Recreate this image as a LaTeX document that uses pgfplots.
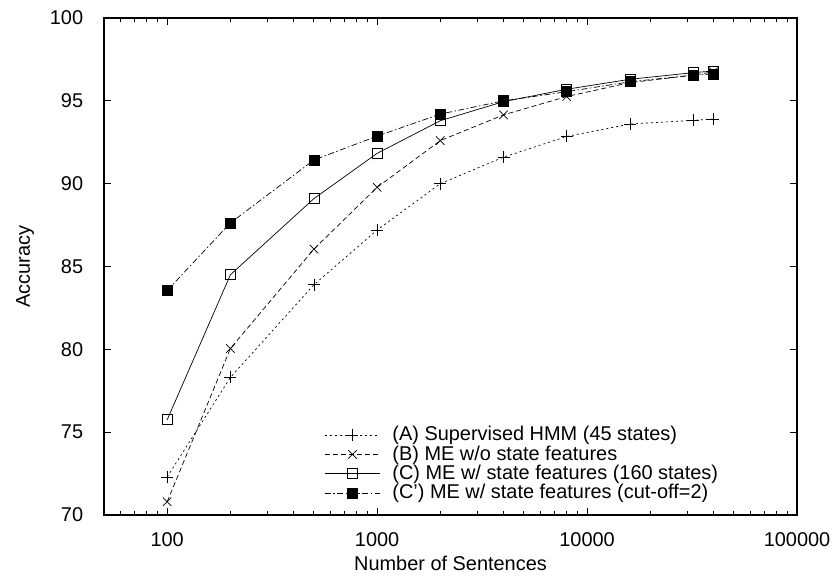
\documentclass[border=0pt]{standalone}
\usepackage{pgfplots}
\pgfplotsset{compat=1.18}
\usepackage{fontspec}
\setmainfont{Liberation Sans}

\begin{document}
\fontsize{20}{22}\selectfont
\begin{tikzpicture}
\begin{axis}[
    at={(0,0)}, anchor=south west,
    scale only axis, width=693bp, height=497bp,
    xmode=log, xmin=50, xmax=100000,
    ymin=70, ymax=100, ytick={70,75,...,100},
    xtick={100,1000,10000,100000},
    xticklabels={100,1000,10000,100000},
    minor xtick={60,70,80,90,200,300,400,500,600,700,800,900,2000,3000,4000,5000,6000,7000,8000,9000,20000,30000,40000,50000,60000,70000,80000,90000},
    tick align=inside, major tick length=7bp, minor tick length=4bp,
    every tick/.style={black, line width=0.9pt},
    axis line style={line width=1.1pt},
    tick label style={font=\fontsize{20}{22}\selectfont},
    /pgf/number format/assume math mode=true,
    yticklabel style={xshift=-14bp},
    xticklabel style={yshift=-11bp},
    xlabel={Number of Sentences}, ylabel={Accuracy},
    label style={font=\fontsize{20}{22}\selectfont},
    xlabel style={at={(axis description cs:0.5,-0.097)}, anchor=center},
    ylabel style={at={(axis description cs:-0.114,0.5)}, anchor=center},
    legend style={draw=none, fill=none, at={(0.318,0.183)}, anchor=north west,
        font=\fontsize{20}{20}\selectfont, row sep=-2bp,
        legend cell align=left, inner sep=0pt},
    legend image code/.code={\draw[mark repeat=2,mark phase=2,#1] plot coordinates {(0cm,0cm) (0.97cm,0cm) (1.94cm,0cm)}; \path (2.3cm,0cm);},
]
\addplot[black, line width=0.7pt, dash pattern=on 2bp off 3bp, mark=+, mark size=6bp, mark options={solid}] coordinates {
(100,72.3) (200,78.3) (500,83.9) (1000,87.2) (2000,90.0) (4000,91.6) (8000,92.85) (16000,93.6) (32000,93.82) (40000,93.9)};
\addlegendentry{(A) Supervised HMM (45 states)}
\addplot[black, line width=0.7pt, dash pattern=on 5bp off 3bp, mark=x, mark size=6bp, mark options={solid}] coordinates {
(100,70.8) (200,80.05) (500,86.05) (1000,89.78) (2000,92.6) (4000,94.15) (8000,95.26) (16000,96.1) (32000,96.55) (40000,96.75)};
\addlegendentry{(B) ME w/o state features}
\addplot[black, line width=0.7pt, mark=square, mark size=5bp, mark options={solid, fill=white}] coordinates {
(100,75.75) (200,84.5) (500,89.1) (1000,91.83) (2000,93.8) (4000,94.95) (8000,95.7) (16000,96.3) (32000,96.7) (40000,96.8)};
\addlegendentry{(C) ME w/ state features (160 states)}
\addplot[black, line width=0.7pt, dash pattern=on 6bp off 2.5bp on 1.5bp off 2.5bp, mark=square*, mark size=5bp, mark options={solid}] coordinates {
(100,83.55) (200,87.63) (500,91.43) (1000,92.87) (2000,94.2) (4000,95.0) (8000,95.55) (16000,96.15) (32000,96.55) (40000,96.62)};
\addlegendentry{(C') ME w/ state features (cut-off=2)}
\end{axis}
\pgfresetboundingbox
\path (-104bp,-61bp) rectangle (733bp,515bp);
\end{tikzpicture}
\end{document}
